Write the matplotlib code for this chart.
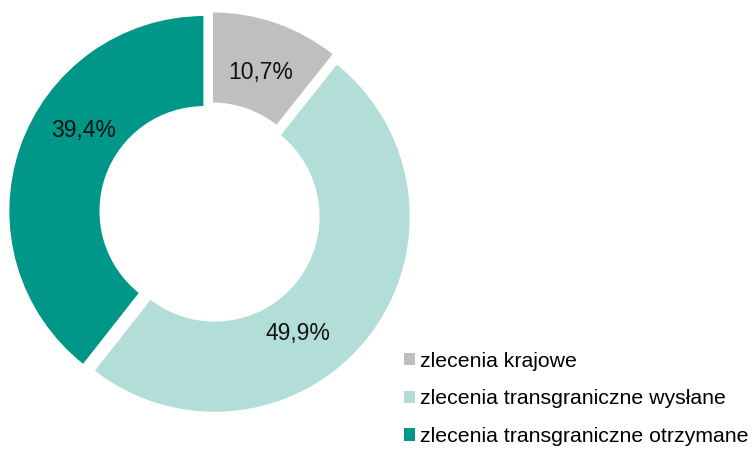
import matplotlib
matplotlib.use("Agg")
import matplotlib.pyplot as plt
import numpy as np
from matplotlib.patches import Patch

categories = ["zlecenia krajowe", "zlecenia transgraniczne wysłane", "zlecenia transgraniczne otrzymane"]
values = [10.7, 49.9, 39.4]
labels = ["10,7%", "49,9%", "39,4%"]
colors = ["#BFBFBF", "#B3DDD7", "#009688"]

plt.rcParams['font.family'] = ['Liberation Sans', 'DejaVu Sans']

fig = plt.figure(figsize=(7.53, 4.5), dpi=100)
ax = fig.add_axes([8/753, 35/450, 404/753, 404/450])
wedges, _ = ax.pie(values, colors=colors, startangle=90, counterclock=False,
                   radius=1.0, explode=[0.03, 0.03, 0.03],
                   wedgeprops=dict(width=0.47, edgecolor="white", linewidth=1.5))
ax.set_xlim(-1.03, 1.03)
ax.set_ylim(-1.03, 1.03)
ax.set_aspect("equal")

# label placement (angle in degrees, radius fraction)
label_pos = [(70, 0.76), (-54, 0.76), (147, 0.77)]
for lab, (ang, r) in zip(labels, label_pos):
    a = np.deg2rad(ang)
    ax.text(r*np.cos(a), r*np.sin(a), lab, ha="center", va="center", fontsize=16.5, color="#111111")

handles = [Patch(facecolor=c, edgecolor="none") for c in colors]
fig.legend(handles, categories, loc="lower left", bbox_to_anchor=(404/753, 4/450),
           frameon=False, fontsize=15.3, handlelength=0.5, handleheight=0.5,
           handletextpad=0.25, labelspacing=0.88, borderaxespad=0, borderpad=0)
fig.savefig("out.png", dpi=100)
